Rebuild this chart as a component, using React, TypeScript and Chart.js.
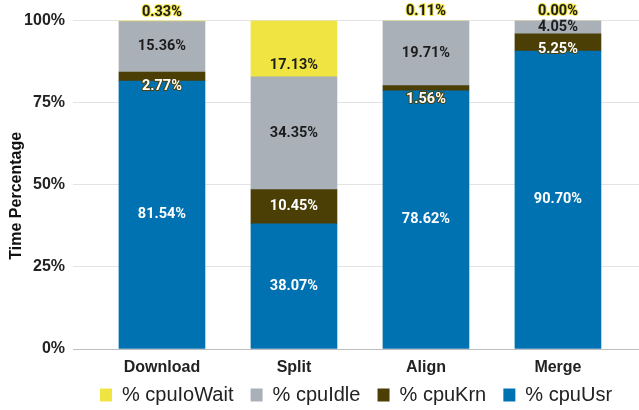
import React, { useEffect, useRef } from 'react';
import { Chart, registerables } from 'chart.js';

Chart.register(...registerables);

// Pipeline stages and CPU time split (percent of wall time)
const stages = ['Download', 'Split', 'Align', 'Merge'];
const cpuUsr = [81.54, 38.07, 78.62, 90.7];
const cpuKrn = [2.77, 10.45, 1.56, 5.25];
const cpuIdle = [15.36, 34.35, 19.71, 4.05];
const cpuIoWait = [0.33, 17.13, 0.11, 0.0];
const yTicks = [0, 25, 50, 75, 100];
const yTitle = 'Time Percentage';

const AXIS_FONT = '"Liberation Sans", Arial, sans-serif';
const LABEL_FONT = 'bold 14.5px Roboto, "Liberation Sans", sans-serif';

type Placement = 'center' | 'lower' | 'above';

// Draws the percentage for every stacked segment, outlined in the segment colour.
const segmentLabels = {
  id: 'segmentLabels',
  afterDatasetsDraw(chart: any) {
    const ctx: CanvasRenderingContext2D = chart.ctx;
    ctx.save();
    ctx.font = LABEL_FONT;
    ctx.textAlign = 'center';
    ctx.textBaseline = 'middle';
    ctx.lineJoin = 'round';
    ctx.lineWidth = 2;
    chart.data.datasets.forEach((ds: any, di: number) => {
      const meta = chart.getDatasetMeta(di);
      const place: Placement = ds.labelPlacement;
      meta.data.forEach((bar: any, i: number) => {
        const { x, y, base } = bar.getProps(['x', 'y', 'base'], true);
        const h = base - y;
        let ly = (y + base) / 2;
        if (place === 'lower' && h < 25) ly = base + 12.5 - 0.8 * h;
        if (place === 'above') ly = base - 9.5 - 0.03 * h;
        const text = Number(ds.data[i].y).toFixed(2) + '%';
        ctx.strokeStyle = ds.backgroundColor;
        ctx.fillStyle = ds.labelColor;
        ctx.strokeText(text, x, ly);
        ctx.fillText(text, x, ly);
      });
    });
    ctx.restore();
  },
};

// Rotated y-axis caption, centred over the plot and its category labels.
const axisCaption = {
  id: 'axisCaption',
  afterDraw(chart: any) {
    const { ctx, chartArea } = chart;
    ctx.save();
    ctx.font = `bold 16px ${AXIS_FONT}`;
    ctx.fillStyle = '#111';
    ctx.textAlign = 'center';
    ctx.textBaseline = 'middle';
    ctx.translate(17, (chartArea.top + chartArea.bottom) / 2 + 11);
    ctx.rotate(-Math.PI / 2);
    ctx.fillText(yTitle, 0, 0);
    ctx.restore();
  },
};

const toPoints = (vals: number[]) => vals.map((v, i) => ({ x: i, y: v }));

export default function App() {
  const canvasRef = useRef<HTMLCanvasElement | null>(null);

  useEffect(() => {
    if (!canvasRef.current) return;
    const series = [
      { label: '% cpuUsr', values: cpuUsr, color: '#0072B2', text: '#ffffff', place: 'center' },
      { label: '% cpuKrn', values: cpuKrn, color: '#4B3F06', text: '#ffffff', place: 'lower' },
      { label: '% cpuIdle', values: cpuIdle, color: '#AAB0B8', text: '#1c1c1c', place: 'center' },
      { label: '% cpuIoWait', values: cpuIoWait, color: '#F0E442', text: '#1c1c1c', place: 'above' },
    ];

    const chart = new Chart(canvasRef.current, {
      type: 'bar',
      data: {
        datasets: series.map((s) => ({
          label: s.label,
          data: toPoints(s.values),
          backgroundColor: s.color,
          borderWidth: 0,
          stack: 'cpu',
          barThickness: 86,
          labelColor: s.text,
          labelPlacement: s.place,
        })) as any,
      },
      options: {
        responsive: false,
        animation: false,
        devicePixelRatio: 1,
        layout: { padding: { top: 20.5, left: 0, right: 0, bottom: 0 } },
        font: { family: AXIS_FONT },
        scales: {
          x: {
            type: 'linear',
            offset: false,
            min: -0.674,
            max: 3.614,
            afterBuildTicks: (s: any) => {
              s.ticks = stages.map((_, i) => ({ value: i }));
            },
            afterFit: (s: any) => {
              s.height = 30;
            },
            grid: { display: false, drawTicks: false },
            border: { display: true, color: '#bdbdbd', width: 1 },
            ticks: {
              padding: 7,
              color: '#222',
              autoSkip: false,
              maxRotation: 0,
              font: { family: AXIS_FONT, size: 16, weight: 'bold', lineHeight: '24px' },
              callback: (v: any) => stages[v] ?? '',
            },
          },
          y: {
            stacked: true,
            min: 0,
            max: 100,
            afterBuildTicks: (s: any) => {
              s.ticks = yTicks.map((v) => ({ value: v }));
            },
            afterFit: (s: any) => {
              s.width = 73;
            },
            grid: { color: '#e3e3e3', drawTicks: false },
            border: { display: false },
            ticks: {
              padding: 8,
              color: '#222',
              font: { family: AXIS_FONT, size: 16, weight: 'bold' },
              callback: (v: any) => `${v}%`,
            },
          },
        } as any,
        plugins: {
          legend: {
            position: 'bottom',
            fullSize: false,
            reverse: true,
            maxHeight: 31,
            labels: {
              boxWidth: 12,
              boxHeight: 13,
              padding: 6,
              color: '#222',
              font: { family: AXIS_FONT, size: 20, weight: 'normal' },
              // widen the gap after each entry except the last one (cpuUsr)
              generateLabels: (chart: any) => {
                const items = Chart.defaults.plugins.legend.labels.generateLabels(chart);
                return items.map((it: any) =>
                  it.datasetIndex === 0 ? it : { ...it, text: it.text + '  ' }
                );
              },
            },
          },
          tooltip: { enabled: false },
        } as any,
      },
      plugins: [segmentLabels, axisCaption],
    });

    return () => chart.destroy();
  }, []);

  return (
    <div style={{ position: 'fixed', left: 0, top: 0, width: 639, height: 410, background: '#fff' }}>
      <canvas ref={canvasRef} width={639} height={410} style={{ display: 'block' }} />
    </div>
  );
}
